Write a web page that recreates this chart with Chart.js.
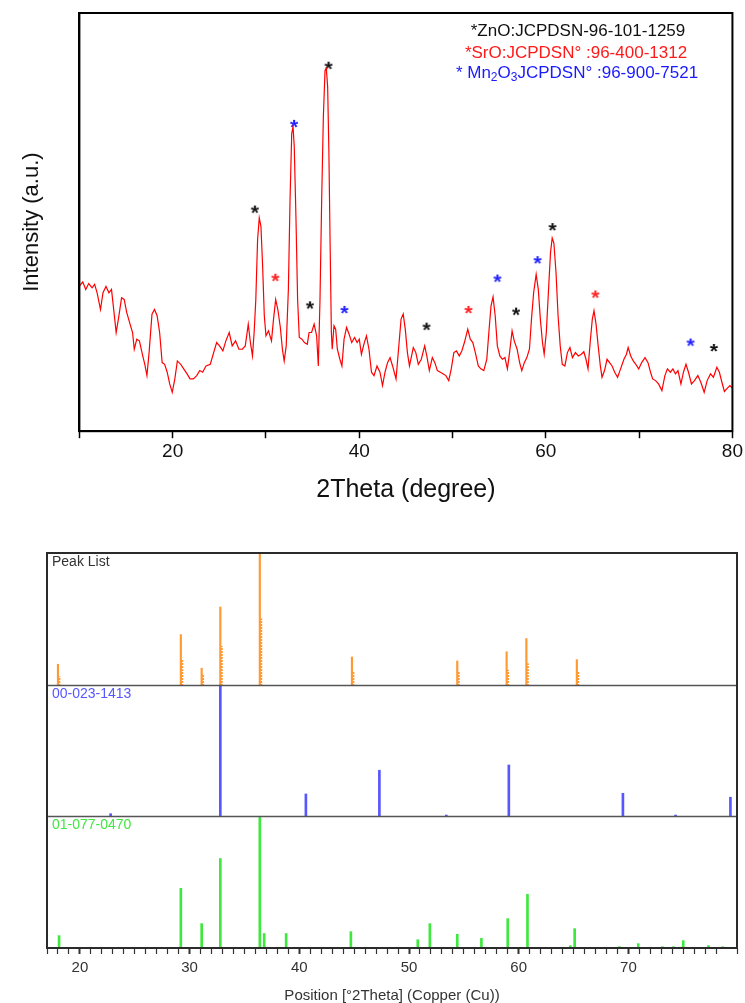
<!DOCTYPE html>
<html>
<head>
<meta charset="utf-8">
<script src="https://cdn.jsdelivr.net/npm/chart.js@4.4.1/dist/chart.umd.min.js"></script>
<style>
  html, body { margin: 0; padding: 0; background: #fff; }
  #topBox { position: absolute; left: 0; top: 0; width: 745px; height: 510px; }
  #bottomBox { position: absolute; left: 0; top: 540px; width: 745px; height: 465px; }
</style>
</head>
<body>
<div id="topBox"><canvas id="xrdChart"></canvas></div>
<div id="bottomBox"><canvas id="stickChart"></canvas></div>
<script>
// XRD pattern (2theta in degrees, intensity in arbitrary units)
const xrdTheta = [
  10.00, 10.36, 10.68, 11.00, 11.36, 11.63, 11.90, 12.26, 12.53, 12.85, 13.17, 13.44, 13.71, 13.94, 14.21, 14.52,
  14.80, 15.07, 15.43, 15.70, 15.88, 16.15, 16.43, 16.79, 17.01, 17.24, 17.47, 17.78, 18.05, 18.33, 18.60, 18.87,
  19.14, 19.41, 19.68, 19.95, 20.23, 20.50, 20.86, 21.18, 21.54, 21.86, 22.22, 22.58, 22.90, 23.21, 23.57, 24.03,
  24.39, 24.71, 25.02, 25.38, 25.70, 26.06, 26.38, 26.74, 27.10, 27.47, 27.78, 28.10, 28.33, 28.55, 28.73, 28.91,
  29.10, 29.28, 29.46, 29.64, 29.82, 30.00, 30.27, 30.59, 30.81, 31.04, 31.27, 31.54, 31.76, 31.95, 32.17, 32.40,
  32.58, 32.76, 32.90, 33.03, 33.21, 33.39, 33.57, 33.85, 34.12, 34.43, 34.62, 34.89, 35.16, 35.43, 35.61, 35.79,
  35.97, 36.15, 36.33, 36.47, 36.61, 36.74, 36.88, 37.01, 37.10, 37.29, 37.47, 37.65, 37.92, 38.14, 38.37, 38.64,
  38.91, 39.19, 39.50, 39.77, 40.00, 40.23, 40.54, 40.77, 41.04, 41.31, 41.58, 41.90, 42.22, 42.49, 42.76, 43.03,
  43.30, 43.57, 43.94, 44.21, 44.48, 44.71, 44.93, 45.16, 45.38, 45.61, 45.79, 46.06, 46.33, 46.65, 47.01, 47.24,
  47.51, 47.83, 48.10, 48.37, 48.69, 49.00, 49.28, 49.59, 49.86, 50.14, 50.41, 50.72, 50.99, 51.27, 51.63, 51.90,
  52.17, 52.44, 52.76, 53.03, 53.35, 53.67, 53.89, 54.12, 54.34, 54.57, 54.80, 55.07, 55.34, 55.61, 55.88, 56.11,
  56.38, 56.61, 56.92, 57.19, 57.42, 57.69, 57.96, 58.24, 58.46, 58.69, 58.96, 59.19, 59.41, 59.64, 59.82, 60.05,
  60.27, 60.50, 60.68, 60.86, 61.09, 61.31, 61.54, 61.76, 62.04, 62.31, 62.58, 62.85, 63.17, 63.48, 63.80, 64.07,
  64.30, 64.52, 64.75, 64.98, 65.16, 65.38, 65.61, 65.84, 66.02, 66.29, 66.56, 66.83, 67.10, 67.38, 67.69, 68.01,
  68.37, 68.64, 68.82, 69.10, 69.37, 69.64, 69.95, 70.27, 70.63, 70.95, 71.22, 71.45, 71.76, 72.08, 72.44, 72.76,
  73.03, 73.35, 73.62, 73.89, 74.16, 74.48, 74.75, 75.02, 75.29, 75.61, 75.93, 76.29, 76.61, 76.97, 77.29, 77.65,
  77.96, 78.33, 78.60, 78.87, 79.14, 79.46, 79.73, 80.00
];
const xrdIntensity = [
  34.7, 35.7, 33.9, 35.3, 34.3, 35.1, 33.1, 29.1, 33.1, 34.6, 33.1, 33.9, 28.4, 23.6, 27.2, 31.9,
  31.5, 28.4, 25.6, 23.6, 19.6, 22.0, 21.6, 18.0, 16.0, 13.3, 18.8, 28.0, 29.1, 27.6, 23.6, 16.4,
  16.0, 14.1, 11.3, 9.3, 12.5, 16.8, 16.0, 14.9, 13.7, 12.5, 12.5, 13.3, 14.5, 14.1, 15.6, 16.0,
  18.8, 21.2, 20.4, 19.2, 21.6, 23.6, 20.4, 21.6, 19.6, 19.6, 20.4, 25.6, 21.2, 18.0, 23.6, 31.5,
  45.8, 51.0, 49.0, 39.5, 27.6, 22.8, 24.0, 21.6, 26.8, 31.5, 29.1, 24.8, 19.6, 16.8, 20.4, 33.9,
  55.4, 71.2, 72.8, 68.1, 51.4, 31.5, 22.4, 22.0, 21.2, 20.8, 23.6, 23.6, 25.6, 22.8, 15.6, 31.5,
  55.4, 75.2, 86.3, 86.7, 82.4, 67.3, 43.9, 23.6, 19.6, 25.2, 24.4, 19.6, 17.2, 15.6, 22.0, 24.8,
  23.2, 21.2, 22.4, 21.2, 22.0, 18.4, 21.2, 22.8, 19.6, 14.1, 13.3, 15.6, 14.1, 10.9, 14.1, 16.4,
  17.6, 15.6, 12.5, 19.6, 26.8, 28.0, 24.4, 18.8, 15.6, 18.0, 20.0, 18.8, 16.0, 17.2, 20.4, 18.0,
  14.5, 17.6, 16.4, 14.5, 14.1, 13.7, 13.3, 12.1, 14.9, 18.8, 19.2, 18.0, 19.2, 21.2, 24.4, 22.0,
  21.2, 18.8, 15.6, 14.9, 14.5, 17.2, 23.6, 29.9, 32.1, 27.6, 20.4, 18.0, 17.2, 17.6, 14.9, 18.8,
  24.0, 21.6, 19.6, 16.4, 14.5, 16.4, 17.6, 19.6, 26.8, 33.1, 37.5, 33.9, 26.8, 21.2, 18.4, 23.6,
  33.1, 42.7, 46.2, 45.0, 37.9, 27.6, 20.4, 16.0, 15.6, 18.8, 20.0, 17.6, 18.8, 18.0, 18.4, 19.0,
  17.2, 14.9, 21.2, 26.8, 28.8, 25.6, 20.4, 15.6, 12.9, 14.5, 17.2, 16.4, 15.6, 14.1, 12.9, 14.9,
  17.2, 18.4, 20.0, 18.0, 16.8, 16.0, 14.9, 16.4, 17.6, 16.4, 14.1, 12.5, 12.1, 11.3, 9.7, 13.3,
  14.9, 14.1, 14.9, 13.7, 14.5, 11.3, 14.1, 16.0, 14.1, 11.3, 12.1, 13.3, 11.7, 9.3, 12.1, 13.7,
  12.9, 15.3, 14.1, 11.7, 9.5, 10.3, 10.9, 10.3
];

// phase markers (*) above the peaks
const znoMarkTheta = [28.8, 34.7, 36.7, 47.2, 56.8, 60.7, 78.0];
const znoMarkVal   = [53.0, 30.1, 87.4, 25.0, 28.6, 48.8, 19.9];
const sroMarkTheta = [31.0, 51.7, 65.3];
const sroMarkVal   = [36.7, 29.0, 32.7];
const mnMarkTheta  = [33.0, 38.4, 54.8, 59.1, 75.5];
const mnMarkVal    = [73.5, 29.0, 36.5, 40.9, 21.2];

const topTicks = [20, 40, 60, 80];

// stick patterns (relative intensity, %)
const peakListPos  = [18.0, 29.2, 31.1, 32.8, 36.4, 44.8, 54.4, 58.9, 60.7, 65.3];
const peakListRel  = [15.5, 38, 12.5, 59, 100, 21, 18, 25, 35, 19];
const peakListRel2 = [6, 19, 7, 29, 50, 10, 10, 11, 16, 10];
const ref1Pos = [22.8, 32.8, 40.6, 47.3, 53.4, 59.1, 69.5, 74.3, 79.3];
const ref1Rel = [2, 100, 17, 35, 1, 39, 17.5, 1, 14.5];
const ref2Pos = [18.1, 29.2, 31.1, 32.8, 36.4, 36.8, 38.8, 44.7, 50.8, 51.9, 54.4, 56.6,
                 59.0, 60.8, 64.7, 65.1, 69.2, 70.9, 73.1, 74.1, 75.0, 77.3, 78.6];
const ref2Rel = [9.4, 45.3, 18.5, 68, 100, 11, 11, 12.4, 6.3, 18.5, 10.4, 7.3,
                 22.3, 40.8, 1.8, 14.7, 1, 3.3, 1, 1, 5.6, 1.8, 1];
const panelNames = ['Peak List', '00-023-1413', '01-077-0470'];

const FONT = "'Liberation Sans', Arial, sans-serif";

function toPoints(xs, ys) {
  return xs.map((x, i) => ({ x: x, y: ys[i] }));
}

// small canvas with an asterisk glyph, used as point style
function starGlyph(color) {
  const c = document.createElement('canvas');
  c.width = 16; c.height = 16;
  const g = c.getContext('2d');
  g.font = 'bold 21px ' + FONT;
  g.fillStyle = color;
  g.textAlign = 'center';
  g.textBaseline = 'alphabetic';
  const m = g.measureText('*');
  const base = 8 + (m.actualBoundingBoxAscent - m.actualBoundingBoxDescent) / 2;
  g.fillText('*', 8, base);
  return c;
}

function drawRich(ctx, parts, cx, y, color) {
  let total = 0;
  parts.forEach(p => {
    ctx.font = (p.sub ? '12px ' : '17px ') + FONT;
    p.w = ctx.measureText(p.t).width;
    total += p.w;
  });
  let x = cx - total / 2;
  ctx.fillStyle = color;
  ctx.textAlign = 'left';
  ctx.textBaseline = 'middle';
  parts.forEach(p => {
    ctx.font = (p.sub ? '12px ' : '17px ') + FONT;
    ctx.fillText(p.t, x, p.sub ? y + 5 : y);
    x += p.w;
  });
}

const topDecor = {
  id: 'topDecor',
  afterDraw(chart) {
    const ctx = chart.ctx, a = chart.chartArea;
    ctx.save();
    ctx.strokeStyle = '#000';
    ctx.lineWidth = 2;
    ctx.strokeRect(a.left, a.top, a.right - a.left, a.bottom - a.top);
    drawRich(ctx, [{ t: '*ZnO:JCPDSN-96-101-1259' }], 578, 31, '#111');
    drawRich(ctx, [{ t: '*SrO:JCPDSN° :96-400-1312' }], 576, 53, '#ff1a1a');
    drawRich(ctx, [{ t: '* Mn' }, { t: '2', sub: true }, { t: 'O' }, { t: '3', sub: true },
                   { t: 'JCPDSN° :96-900-7521' }], 577, 73, '#1a1aff');
    ctx.restore();
  }
};

function initTop() {
  const ctx = document.getElementById('xrdChart').getContext('2d');
  const markerSet = (label, xs, ys, color) => ({
    type: 'scatter', label: label, data: toPoints(xs, ys),
    pointStyle: starGlyph(color), pointRadius: 6, pointHoverRadius: 6
  });
  new Chart(ctx, {
    type: 'line',
    data: {
      datasets: [
        {
          label: 'XRD',
          data: toPoints(xrdTheta, xrdIntensity),
          borderColor: '#ff0000',
          borderWidth: 1.2,
          pointRadius: 0,
          tension: 0,
          fill: false
        },
        markerSet('ZnO', znoMarkTheta, znoMarkVal, '#111111'),
        markerSet('SrO', sroMarkTheta, sroMarkVal, '#ff2020'),
        markerSet('Mn2O3', mnMarkTheta, mnMarkVal, '#2020ff')
      ]
    },
    options: {
      responsive: true,
      maintainAspectRatio: false,
      animation: false,
      layout: { padding: { left: 0, right: 0, top: 13, bottom: 3 } },
      plugins: { legend: { display: false }, tooltip: { enabled: false } },
      scales: {
        x: {
          type: 'linear',
          min: 10,
          max: 80,
          grid: { drawOnChartArea: false, tickLength: 7, color: '#000', tickWidth: 1.5 },
          border: { color: '#000', width: 2 },
          ticks: {
            stepSize: 10,
            autoSkip: false,
            maxRotation: 0,
            padding: 2,
            color: '#111',
            font: { family: FONT, size: 19 },
            callback: v => topTicks.includes(v) ? String(v) : ''
          },
          title: {
            display: true,
            text: '2Theta (degree)',
            color: '#111',
            font: { family: FONT, size: 25 },
            padding: { top: 10, bottom: 2 }
          }
        },
        y: {
          min: 0,
          max: 100,
          grid: { display: false, drawTicks: false },
          border: { color: '#000', width: 2 },
          ticks: { display: false },
          title: {
            display: true,
            text: 'Intensity (a.u.)',
            color: '#111',
            font: { family: FONT, size: 22 },
            padding: { top: 19, bottom: 34 }
          }
        }
      }
    },
    plugins: [topDecor]
  });
}

// dotted fill for the second component of the peak list
function dottedPattern(ctx, color) {
  const c = document.createElement('canvas');
  c.width = 2; c.height = 3;
  const g = c.getContext('2d');
  g.fillStyle = color;
  g.fillRect(0, 0, 2, 2);
  return ctx.createPattern(c, 'repeat');
}

const panelColors = ['#ff9933', '#5757ff', '#3fe83f'];
const panelBase = [200, 100, 0];

const bottomDecor = {
  id: 'bottomDecor',
  afterDraw(chart) {
    const ctx = chart.ctx, a = chart.chartArea, y = chart.scales.y;
    ctx.save();
    ctx.strokeStyle = '#555';
    ctx.lineWidth = 1.5;
    [200, 100].forEach(v => {
      const py = Math.round(y.getPixelForValue(v)) + 0.5;
      ctx.beginPath();
      ctx.moveTo(a.left, py);
      ctx.lineTo(a.right, py);
      ctx.stroke();
    });
    ctx.strokeStyle = '#2b2b2b';
    ctx.lineWidth = 2;
    ctx.strokeRect(a.left, a.top, a.right - a.left, a.bottom - a.top);
    ctx.font = '14px ' + FONT;
    ctx.textAlign = 'left';
    ctx.textBaseline = 'middle';
    const labelColors = ['#333333', panelColors[1], panelColors[2]];
    panelNames.forEach((name, i) => {
      ctx.fillStyle = labelColors[i];
      ctx.fillText(name, a.left + 5, y.getPixelForValue(panelBase[i] + 100) + 9);
    });
    ctx.restore();
  }
};

function initBottom() {
  const ctx = document.getElementById('stickChart').getContext('2d');
  const sticks = (label, pos, rel, base, color, thick, dx) => ({
    label: label,
    data: pos.map((p, i) => ({ x: p + dx, y: [base, base + rel[i]] })),
    backgroundColor: color,
    borderWidth: 0,
    barThickness: thick,
    grouped: false
  });
  new Chart(ctx, {
    type: 'bar',
    data: {
      datasets: [
        sticks('Peak List', peakListPos, peakListRel, panelBase[0], panelColors[0], 1.5, 0),
        sticks('Peak List 2', peakListPos, peakListRel2, panelBase[0], dottedPattern(ctx, panelColors[0]), 2, 0.1),
        sticks('00-023-1413', ref1Pos, ref1Rel, panelBase[1], panelColors[1], 2, 0),
        sticks('01-077-0470', ref2Pos, ref2Rel, panelBase[2], panelColors[2], 2, 0)
      ]
    },
    options: {
      responsive: true,
      maintainAspectRatio: false,
      animation: false,
      layout: { padding: { left: 47, right: 8, top: 13, bottom: 0 } },
      plugins: { legend: { display: false }, tooltip: { enabled: false } },
      scales: {
        x: {
          type: 'linear',
          min: 17,
          max: 79.9,
          offset: false,
          grid: {
            drawOnChartArea: false,
            offset: false,
            tickLength: 6,
            tickColor: '#333',
            tickWidth: c => (c.tick && c.tick.value % 10 === 0) ? 2 : 1.2
          },
          border: { display: false },
          ticks: {
            stepSize: 1,
            autoSkip: false,
            maxRotation: 0,
            padding: 5,
            color: '#333',
            font: { family: FONT, size: 15 },
            callback: v => v % 10 === 0 ? String(v) : ''
          },
          title: {
            display: true,
            text: 'Position [°2Theta] (Copper (Cu))',
            color: '#333',
            font: { family: FONT, size: 15 },
            padding: { top: 5, bottom: 0 }
          }
        },
        y: {
          display: false,
          min: 0,
          max: 300
        }
      }
    },
    plugins: [bottomDecor]
  });
}

initTop();
initBottom();
</script>
</body>
</html>
